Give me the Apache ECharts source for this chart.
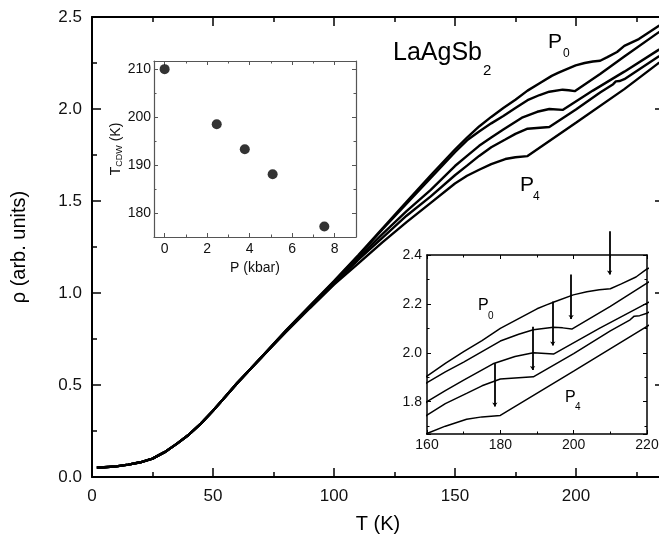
<!DOCTYPE html>
<html>
<head>
<meta charset="utf-8">
<script src="https://cdn.jsdelivr.net/npm/echarts@6/dist/echarts.min.js"></script>
<style>
html,body{margin:0;padding:0;background:#fff;}
#main{width:659px;height:541px;}
</style>
</head>
<body>
<div id="main"></div>
<script>
var FONT = '"Liberation Sans", Arial, sans-serif';

// low temperature part, all five curves lie on top of each other
var lowT = [[2,0.052],[5,0.053],[10,0.058],[15,0.067],[20,0.08],[25,0.1],[30,0.135],[35,0.18],
  [40,0.23],[45,0.29],[50,0.36],[55,0.435],[60,0.51],[65,0.58],[70,0.65]];

// rho(T) above 80 K for P0 .. P4
var curveP0 = [[80,0.795],[90,0.93],[100,1.065],[110,1.205],[120,1.35],[130,1.495],[140,1.64],[150,1.78],
  [155,1.845],[160,1.905],[165,1.957],[170,2.005],[175,2.05],[180,2.1],[185,2.14],[190,2.18],[192.6,2.196],[195,2.21],
  [199.9,2.237],[203.6,2.25],[207,2.258],[210,2.262],[213,2.282],[217,2.31],[220,2.343],[226,2.38],[234,2.45],[236.4,2.465]];
var curveP1 = [[80,0.793],[90,0.928],[100,1.062],[110,1.2],[120,1.345],[130,1.485],[140,1.625],[150,1.765],
  [155,1.83],[160,1.878],[165,1.922],[170,1.962],[175,2.005],[180,2.048],[185,2.076],[189,2.094],[194.5,2.105],
  [197,2.102],[199.5,2.097],[210,2.19],[220,2.285],[234,2.415],[236.4,2.435]];
var curveP2 = [[80,0.791],[90,0.925],[100,1.056],[110,1.19],[120,1.32],[130,1.445],[140,1.56],[150,1.69],
  [155,1.745],[160,1.8],[165,1.845],[170,1.888],[178,1.955],[184,1.985],[189,2.0],[194.5,1.995],[207,2.1],
  [220,2.203],[234,2.32],[236.4,2.338]];
var curveP3 = [[80,0.789],[90,0.922],[100,1.05],[110,1.18],[120,1.3],[130,1.42],[140,1.525],[150,1.64],
  [155,1.692],[160,1.745],[165,1.792],[170.8,1.834],[175,1.865],[180,1.893],[189,1.902],[200,1.997],[210,2.09],
  [215.4,2.135],[216.5,2.15],[218,2.152],[220,2.162],[234,2.284],[236.4,2.302]];
var curveP4 = [[80,0.786],[90,0.917],[100,1.045],[110,1.16],[120,1.275],[130,1.385],[140,1.49],[150,1.595],
  [155,1.637],[160,1.67],[165,1.7],[170.8,1.728],[175,1.738],[180,1.744],[200,1.925],[220,2.108],[234,2.248],[236.4,2.268]];

// arrows in the lower inset (T_CDW marks)
var arrowT = [178.5, 188.8, 194.3, 199.3, 209.8];
var arrowTop = [1.957, 2.107, 2.21, 2.32, 2.497];
var arrowBottom = [1.78, 1.93, 2.03, 2.138, 2.32];

// upper inset: T_CDW vs pressure
var pressure = [0, 2.45, 3.77, 5.08, 7.51];
var tcdw = [210, 198.5, 193.3, 188.1, 177.2];

var chart = echarts.init(document.getElementById('main'), null, {renderer: 'canvas'});

function tickAxis(o) {
  var a = {
    type: 'value',
    gridIndex: o.grid,
    position: o.pos,
    min: o.min,
    max: o.max,
    axisLine: {show: true, onZero: false, lineStyle: {color: o.color || '#000', width: o.lw || 1.5}},
    axisTick: {show: true, inside: true, length: o.tl || 5, lineStyle: {color: o.color || '#000', width: o.tw || 1}},
    minorTick: {show: true, splitNumber: 2, length: o.ml || 3, lineStyle: {color: o.color || '#000', width: o.tw || 1}},
    splitLine: {show: false},
    minorSplitLine: {show: false},
    axisLabel: {show: false},
    nameMoveOverlap: false
  };
  if (o.interval != null) a.interval = o.interval;
  if (o.split != null) a.splitNumber = o.split;
  if (o.label) {
    a.axisLabel = {
      show: true, fontSize: o.fs, color: '#111', fontFamily: FONT, margin: o.margin,
      showMinLabel: o.showMin !== false, showMaxLabel: o.showMax !== false,
      formatter: o.fmt
    };
  }
  return a;
}

var xAxes = [
  tickAxis({grid: 0, pos: 'bottom', min: 0, max: 236.4, interval: 50, lw: 2, tl: 9, ml: 5, tw: 1.5,
    label: true, fs: 17, margin: 11, showMax: false}),
  tickAxis({grid: 0, pos: 'top', min: 0, max: 236.4, interval: 50, lw: 2, tl: 9, ml: 5, tw: 1.5}),
  tickAxis({grid: 1, pos: 'bottom', min: -0.5, max: 9, split: 5, lw: 1.2, color: '#555', tl: 4, ml: 2.5,
    label: true, fs: 14, margin: 5, showMin: false, showMax: false}),
  tickAxis({grid: 1, pos: 'top', min: -0.5, max: 9, split: 5, lw: 1.2, color: '#555', tl: 4, ml: 2.5}),
  tickAxis({grid: 2, pos: 'bottom', min: 160, max: 220, interval: 20, lw: 1.5, tl: 4, ml: 2.5,
    label: true, fs: 14, margin: 4}),
  tickAxis({grid: 2, pos: 'top', min: 160, max: 220, interval: 20, lw: 1.5, tl: 4, ml: 2.5})
];
xAxes[0].name = 'T (K)';
xAxes[0].nameLocation = 'middle';
xAxes[0].nameGap = 37;
xAxes[0].nameTextStyle = {fontSize: 20, fontFamily: FONT, color: '#000'};
xAxes[2].name = 'P (kbar)';
xAxes[2].nameLocation = 'middle';
xAxes[2].nameGap = 24;
xAxes[2].nameTextStyle = {fontSize: 14, fontFamily: FONT, color: '#111'};

var oneDec = function (v) { return v.toFixed(1); };
var yAxes = [
  tickAxis({grid: 0, pos: 'left', min: 0, max: 2.5, interval: 0.5, lw: 2, tl: 9, ml: 5, tw: 1.5,
    label: true, fs: 17, margin: 10, fmt: oneDec}),
  tickAxis({grid: 0, pos: 'right', min: 0, max: 2.5, interval: 0.5, lw: 2, tl: 9, ml: 5, tw: 1.5}),
  tickAxis({grid: 1, pos: 'left', min: 175, max: 211.7, split: 4, lw: 1.2, color: '#555', tl: 4, ml: 2.5,
    label: true, fs: 14, margin: 3, showMin: false, showMax: false}),
  tickAxis({grid: 1, pos: 'right', min: 175, max: 211.7, split: 4, lw: 1.2, color: '#555', tl: 4, ml: 2.5}),
  tickAxis({grid: 2, pos: 'left', min: 1.668, max: 2.4, split: 4, lw: 1.5, tl: 4, ml: 2.5,
    label: true, fs: 14, margin: 5, showMin: false, fmt: oneDec}),
  tickAxis({grid: 2, pos: 'right', min: 1.668, max: 2.4, split: 4, lw: 1.5, tl: 4, ml: 2.5})
];
yAxes[0].name = '\u03c1 (arb. units)';
yAxes[0].nameLocation = 'middle';
yAxes[0].nameGap = 63;
yAxes[0].nameTextStyle = {fontSize: 20, fontFamily: FONT, color: '#000'};
yAxes[2].name = '{a|T}{s|CDW}{a| (K)}';
yAxes[2].nameLocation = 'middle';
yAxes[2].nameGap = 30;
yAxes[2].nameTextStyle = {
  fontFamily: FONT, color: '#111',
  rich: {
    a: {fontSize: 14, fontFamily: FONT, color: '#111'},
    s: {fontSize: 9, fontFamily: FONT, color: '#111', padding: [7, 0, 0, 0]}
  }
};

var curves = [curveP0, curveP1, curveP2, curveP3, curveP4];
var series = [];
curves.forEach(function (c) {
  series.push({
    type: 'line', xAxisIndex: 0, yAxisIndex: 0, data: lowT.concat(c),
    symbol: 'none', silent: true, lineStyle: {color: '#000', width: 2.4}
  });
  series.push({
    type: 'line', xAxisIndex: 4, yAxisIndex: 4, data: c,
    symbol: 'none', silent: true, clip: true, lineStyle: {color: '#000', width: 1.5}
  });
});

series.push({
  type: 'lines', coordinateSystem: 'cartesian2d', xAxisIndex: 4, yAxisIndex: 4,
  clip: false, silent: true,
  symbol: ['none', 'arrow'], symbolSize: 4,
  lineStyle: {color: '#000', width: 1.8, opacity: 1},
  data: arrowT.map(function (t, i) {
    return {coords: [[t, arrowTop[i]], [t, arrowBottom[i]]]};
  })
});

series.push({
  type: 'scatter', xAxisIndex: 2, yAxisIndex: 2, symbol: 'circle', symbolSize: 10, silent: true,
  itemStyle: {color: '#000'},
  data: pressure.map(function (p, i) { return [p, tcdw[i]]; })
});

function txt(s, left, top, size) {
  return {type: 'text', left: left, top: top, silent: true,
    style: {text: s, fill: '#000', font: size + 'px ' + FONT}};
}

var option = {
  animation: false,
  backgroundColor: '#fff',
  grid: [
    {left: 92, top: 17, width: 572, height: 460, outerBoundsMode: 'none', containLabel: false},
    {left: 154, top: 61, width: 202, height: 176, outerBoundsMode: 'none', containLabel: false},
    {left: 427, top: 255, width: 220, height: 179, outerBoundsMode: 'none', containLabel: false}
  ],
  xAxis: xAxes,
  yAxis: yAxes,
  series: series,
  graphic: [
    txt('LaAgSb', 393, 41, 25),
    txt('2', 483, 63, 15),
    txt('P', 548, 32, 21),
    txt('0', 563, 48, 12),
    txt('P', 520, 175, 21),
    txt('4', 533, 191, 12),
    txt('P', 478, 298, 16),
    txt('0', 488, 311, 10),
    txt('P', 565, 390, 16),
    txt('4', 575, 402, 10)
  ]
};

chart.setOption(option);
</script>
</body>
</html>
